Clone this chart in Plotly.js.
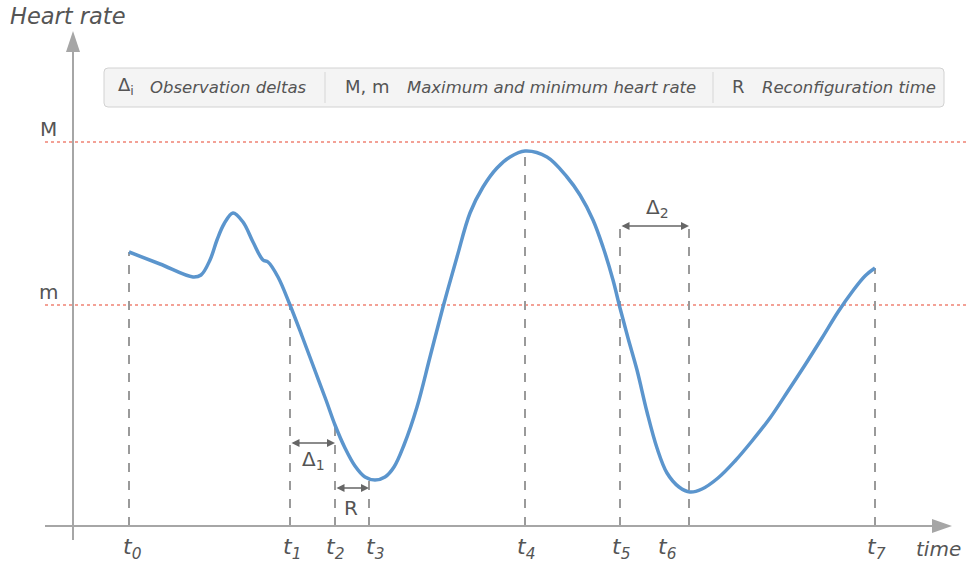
<!DOCTYPE html>
<html>
<head>
<meta charset="utf-8">
<script src="https://cdn.plot.ly/plotly-3.0.1.min.js"></script>
<style>
  html, body { margin: 0; padding: 0; background: #ffffff; }
  #chart { width: 966px; height: 568px; }
</style>
</head>
<body>
<div id="chart"></div>
<script>
// Heart rate over time (arbitrary units), sampled along the curve
const timeValues = [129, 160, 193, 201, 210, 217, 224, 233, 243, 253, 263, 268, 278,
                    290, 302, 314, 326, 335, 345, 355, 365, 375,
                    385, 394, 404, 417, 430, 443, 457, 470, 483, 497, 510, 525,
                    547, 567, 580, 593, 603, 613, 620, 628, 637, 647, 657, 667, 679, 690,
                    702, 718, 735, 752, 770, 788, 805, 822, 838, 852, 865, 875];
const heartRate  = [316, 304, 291, 293, 308, 328, 344, 355, 346, 326, 308, 306, 291,
                    263, 232, 200, 168, 143, 120, 102, 91, 88,
                    91, 101, 123, 161, 211, 261, 311, 355, 381, 400, 411, 417,
                    411, 391, 373, 348, 321, 288, 260, 230, 198, 156, 120, 95, 81, 76,
                    79, 90, 107, 127, 150, 177, 203, 230, 256, 276, 292, 300];

// Observation instants t0..t7 and the heart-rate level where each marker line ends
const tickNames  = ['t0', 't1', 't2', 't3', 't4', 't5', 't6', 't7'];
const tickTimes  = [129, 290, 335, 369, 525, 620, 689, 875];
const markerTops = [316, 263, 143, 88, 417, 342, 342, 300];
const tickLabelX = [132, 292, 335, 375, 526, 621, 667, 876];

// Reference levels
const levelNames  = ['M', 'm'];
const levelValues = [426, 263];

// Interval annotations: [startTime, endTime, level, label, labelTime, labelLevel]
const intervals = [
  [290, 335, 125, 'Δ<sub>1</sub>', 313, 108],
  [335, 369, 80,  'R',             351, 60],
  [620, 689, 342, 'Δ<sub>2</sub>', 657, 360]
];

// Legend entries
const legendKeys   = ['Δ<sub>i</sub>', 'M, m', 'R'];
const legendTexts  = ['Observation deltas', 'Maximum and minimum heart rate', 'Reconfiguration time'];

const axisBase = 42;   // heart-rate value of the time axis
const axisTime = 73;   // time value of the heart-rate axis
const grey = '#a6a6a6';
const textGrey = '#555555';
const FONT = 'DejaVu Sans, Verdana, sans-serif';

const traces = [{
  x: timeValues,
  y: heartRate,
  mode: 'lines',
  line: { color: '#5b95cd', width: 3.5, shape: 'spline', smoothing: 1 },
  hoverinfo: 'skip'
}];

const shapes = [];
const annotations = [];

// Reference levels as dotted red lines
levelValues.forEach(v => {
  shapes.push({ type: 'line', x0: 45, x1: 966, y0: v, y1: v,
    line: { color: '#ef8374', width: 1.5, dash: 'dot' }, layer: 'below' });
});
levelNames.forEach((n, i) => {
  annotations.push({ x: 48, y: levelValues[i] + 13, text: n, showarrow: false,
    font: { family: FONT, size: 20, color: textGrey }, xanchor: 'center', yanchor: 'middle' });
});

// Dashed drop lines from the curve to the time axis
tickTimes.forEach((t, i) => {
  shapes.push({ type: 'line', x0: t, x1: t, y0: axisBase, y1: markerTops[i],
    line: { color: '#9a9a9a', width: 2, dash: 'dash' }, layer: 'below' });
});

// Axes with arrow heads
shapes.push({ type: 'line', x0: 45, x1: 936, y0: axisBase, y1: axisBase, line: { color: grey, width: 2 } });
shapes.push({ type: 'line', x0: axisTime, x1: axisTime, y0: 28, y1: 520, line: { color: grey, width: 2 } });
shapes.push({ type: 'path', path: `M ${axisTime} 537 L ${axisTime - 7} 516 L ${axisTime + 7} 516 Z`,
  fillcolor: grey, line: { width: 0 } });
shapes.push({ type: 'path', path: `M 952 ${axisBase} L 932 ${axisBase + 7} L 932 ${axisBase - 7} Z`,
  fillcolor: grey, line: { width: 0 } });

// Legend box with rounded corners and dividers
const bx0 = 104, bx1 = 944, by0 = 461, by1 = 500, r = 4;
shapes.push({ type: 'path',
  path: `M ${bx0 + r} ${by0} L ${bx1 - r} ${by0} Q ${bx1} ${by0} ${bx1} ${by0 + r} L ${bx1} ${by1 - r} Q ${bx1} ${by1} ${bx1 - r} ${by1} L ${bx0 + r} ${by1} Q ${bx0} ${by1} ${bx0} ${by1 - r} L ${bx0} ${by0 + r} Q ${bx0} ${by0} ${bx0 + r} ${by0} Z`,
  fillcolor: '#f4f4f4', line: { color: '#d2d2d2', width: 1 } });
[325, 713].forEach(xd => {
  shapes.push({ type: 'line', x0: xd, x1: xd, y0: 465, y1: 496, line: { color: '#d6d6d6', width: 1 } });
});
const keyX  = [126, 367, 738];
const textX = [148, 405, 760];
legendKeys.forEach((k, i) => {
  annotations.push({ x: keyX[i], y: 482, text: k, showarrow: false, xanchor: 'center', yanchor: 'middle',
    font: { family: FONT, size: 18, color: textGrey } });
  annotations.push({ x: textX[i], y: 481, text: '<i>' + legendTexts[i] + '</i>', showarrow: false,
    xanchor: 'left', yanchor: 'middle', font: { family: FONT, size: 16.5, color: textGrey } });
});

// Double-headed interval arrows and their labels
intervals.forEach(([a, b, lvl, lab, lx, ly]) => {
  annotations.push({ x: b, y: lvl, ax: a, ay: lvl, axref: 'x', ayref: 'y', xref: 'x', yref: 'y',
    text: '', showarrow: true, arrowhead: 2, startarrowhead: 2, arrowside: 'end+start',
    arrowsize: 1, startarrowsize: 1, arrowwidth: 1.6, arrowcolor: '#666666', standoff: 0, startstandoff: 0 });
  annotations.push({ x: lx, y: ly, text: lab, showarrow: false, xanchor: 'center', yanchor: 'middle',
    font: { family: FONT, size: 20, color: textGrey } });
});

// Time tick labels
tickNames.forEach((n, i) => {
  annotations.push({ x: tickLabelX[i], y: 20, text: '<i>' + n[0] + '<sub>' + n.slice(1) + '</sub></i>',
    showarrow: false, xanchor: 'center', yanchor: 'middle', font: { family: FONT, size: 22, color: textGrey } });
});

// Axis titles
annotations.push({ x: 8, y: 552, text: '<i>Heart rate</i>', showarrow: false, xanchor: 'left', yanchor: 'middle',
  font: { family: FONT, size: 22.5, color: textGrey } });
annotations.push({ x: 963, y: 19, text: '<i>time</i>', showarrow: false, xanchor: 'right', yanchor: 'middle',
  font: { family: FONT, size: 20, color: textGrey } });

const layout = {
  width: 966, height: 568,
  margin: { l: 0, r: 0, t: 0, b: 0 },
  paper_bgcolor: '#ffffff', plot_bgcolor: '#ffffff',
  showlegend: false,
  xaxis: { range: [0, 966], visible: false, fixedrange: true },
  yaxis: { range: [0, 568], visible: false, fixedrange: true },
  shapes: shapes,
  annotations: annotations
};

Plotly.newPlot('chart', traces, layout, { displayModeBar: false, staticPlot: true });
</script>
</body>
</html>
